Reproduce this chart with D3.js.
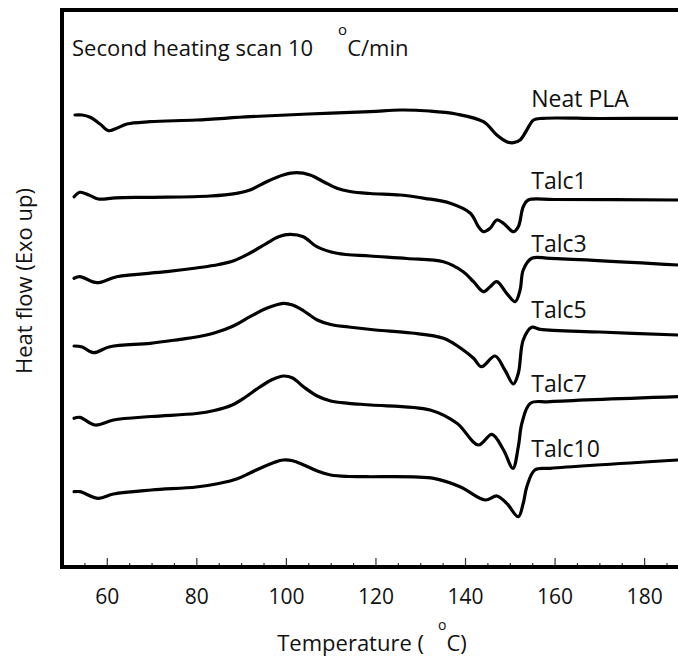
<!DOCTYPE html>
<html>
<head>
<meta charset="utf-8">
<script src="https://cdn.jsdelivr.net/npm/d3@7"></script>
<style>
  html, body { margin: 0; padding: 0; background: #fff; }
  svg { display: block; }
  text { font-family: "Open Sans", "Noto Sans", sans-serif; fill: #111; }
</style>
</head>
<body>
<svg id="chart" width="678" height="661"></svg>
<script>
// ---------- data (temperature in °C, heat flow in arbitrary units, curves stacked) ----------
const seriesNames = ["Neat PLA", "Talc1", "Talc3", "Talc5", "Talc7", "Talc10"];

const neatT = [52.9, 54.5, 56.3, 58.5, 60.4, 62.2, 64.5, 69.7, 80, 92, 105, 118.8, 125.5, 132, 138, 144.1, 147.1, 149.3, 150.8, 152.3, 153.8, 155.3, 157.5, 170, 187.6];
const neatV = [452, 452, 449.7, 443, 436.3, 438.7, 443, 445.3, 447, 450.3, 453, 455.3, 457, 456, 453, 445.3, 432, 425.3, 424.3, 427, 437, 447, 448.7, 448.5, 448.7];

const talc1T = [52.7, 54.0, 56.0, 58.1, 62, 69.7, 83.1, 89.0, 92.0, 95.7, 99.4, 102.4, 105.4, 108.4, 111.4, 114.3, 118.8, 125.5, 131, 136.7, 141.2, 143.0, 144.1, 145.6, 147.1, 148.6, 150.8, 151.9, 153.0, 154.1, 160, 187.6];
const talc1V = [370.3, 374.7, 372, 368, 369.2, 369.7, 371, 373.7, 377, 385.3, 392, 394.3, 392, 385.3, 378.7, 375.5, 373.5, 372, 368.7, 363.7, 353.7, 340.3, 335.3, 338.7, 347, 343.7, 335.3, 340.3, 360.3, 367, 367.5, 367];

const talc3T = [52.7, 54.0, 57.8, 62.2, 73.4, 80, 85, 88.5, 92, 95.7, 98.5, 100.9, 103.9, 106.9, 111.4, 118.8, 127, 135.2, 139.6, 141.9, 144.1, 145.6, 147.1, 149.3, 151.2, 152.3, 153.0, 154.9, 159, 187.6];
const talc3V = [288.7, 290.3, 284.3, 290.3, 295.3, 299, 302.5, 306.5, 314, 323.7, 330.5, 332.7, 330.3, 320.3, 313.7, 311, 308.5, 305.3, 295.3, 285.3, 275.3, 280.3, 285.3, 273.7, 265.3, 277, 297, 308.7, 308.7, 302];

const talc5T = [52.7, 54.5, 57.0, 60.7, 69.7, 76.4, 80, 84, 88, 92, 95.7, 99.4, 101.5, 104, 107, 110, 114, 120, 128, 135.2, 139.6, 141.9, 143.7, 146.7, 148.9, 150.8, 151.9, 153.0, 154.9, 156.8, 170, 187.6];
const talc5V = [221, 220, 214.3, 220.3, 223.7, 227.7, 230, 234, 240.5, 250.3, 258.7, 263.7, 262, 256, 247, 242.5, 240, 237, 234, 228.7, 217, 208.7, 200.3, 211, 197, 183, 193.7, 227, 239.7, 237.7, 235, 232];

const talc7T = [52.7, 54.0, 57.4, 61.5, 70, 80, 84, 88, 91, 94, 97, 99.5, 101.5, 104, 107, 110, 114, 119, 132.2, 138.2, 143.0, 146.0, 148.6, 150.7, 151.9, 152.7, 154.6, 159.0, 187.6];
const talc7V = [148.7, 149.7, 142, 147, 150.5, 153.5, 156.5, 162, 170, 179.5, 187.5, 191, 189, 180, 171, 166, 163.7, 162, 157, 143.7, 122, 132.7, 117, 98.7, 120.3, 143.7, 163.7, 165.3, 170.3];

const talc10T = [52.7, 54.0, 58.1, 61.5, 70, 80, 85, 89, 92, 95, 97.5, 99.4, 101.5, 104, 107, 110, 114, 118, 133.0, 138.9, 144.5, 147.1, 149.3, 151.9, 153.0, 153.8, 155.6, 159.0, 187.6];
const talc10V = [75.3, 75.3, 68.7, 73, 77, 80, 83.5, 88, 94, 100.3, 104.8, 107, 106.3, 102, 96, 92, 90.5, 90.3, 88.7, 80.3, 67, 71, 63.7, 50.3, 63.7, 80.3, 97, 98.7, 107];

// label anchor (temperature, heat-flow level) for each curve name
const labelTemp = 154.8;
const labelLevels = [460.3, 378, 315, 249, 175.3, 110.3];

const majorTicks = [60, 80, 100, 120, 140, 160, 180];
const minorTicks = [55, 65, 70, 75, 85, 90, 95, 105, 110, 115, 125, 130, 135, 145, 150, 155, 165, 170, 175, 185];

const titleText = "Second heating scan 10";
const xTitle = "Temperature (";
const yTitle = "Heat flow (Exo up)";

// ---------- chart ----------
const svg = d3.select("#chart");
const padL = 62, padT = 10, padB = 567;
const x = d3.scaleLinear().domain([50, 190]).range([padL, padL + 140 * 4.478]);
const y = d3.scaleLinear().domain([0, 557]).range([padB, padT]);

const seriesT = [neatT, talc1T, talc3T, talc5T, talc7T, talc10T];
const seriesV = [neatV, talc1V, talc3V, talc5V, talc7V, talc10V];

svg.append("defs").append("clipPath").attr("id", "clip")
  .append("rect").attr("x", padL).attr("y", padT).attr("width", 678 - padL).attr("height", padB - padT);

const line = d3.line()
  .x(d => x(d[0]))
  .y(d => y(d[1]))
  .curve(d3.curveCatmullRom.alpha(0.5));

const g = svg.append("g").attr("clip-path", "url(#clip)");
seriesNames.forEach((name, i) => {
  const pts = seriesT[i].map((t, j) => [t, seriesV[i][j]]);
  g.append("path")
    .datum(pts)
    .attr("d", line)
    .attr("fill", "none")
    .attr("stroke", "#000")
    .attr("stroke-width", 3.2)
    .attr("stroke-linejoin", "round")
    .attr("stroke-linecap", "round");
});

// series labels
seriesNames.forEach((name, i) => {
  svg.append("text")
    .attr("x", x(labelTemp))
    .attr("y", y(labelLevels[i]))
    .attr("font-size", 23)
    .text(name);
});

// minor ticks
svg.append("g")
  .attr("transform", `translate(0,${padB})`)
  .call(d3.axisBottom(x).tickValues(minorTicks).tickSize(-4).tickFormat(""))
  .call(a => a.select(".domain").remove())
  .call(a => a.selectAll("line").attr("stroke", "#333").attr("stroke-width", 1.2));

// major ticks + labels
svg.append("g")
  .attr("transform", `translate(0,${padB})`)
  .call(d3.axisBottom(x).tickValues(majorTicks).tickSize(-9).tickPadding(22).tickFormat(d3.format("d")))
  .call(a => a.select(".domain").remove())
  .call(a => a.selectAll("line").attr("stroke", "#333").attr("stroke-width", 1.2))
  .call(a => a.selectAll("text")
    .attr("font-size", 21)
    .attr("font-family", "'Open Sans', 'Noto Sans', sans-serif")
    .attr("fill", "#111"));

// frame
svg.append("path")
  .attr("d", `M${x(190) + 5},${padT} H${padL} V${padB} H${x(190) + 5}`)
  .attr("fill", "none")
  .attr("stroke", "#000")
  .attr("stroke-width", 4);

// chart title with raised degree sign
const t1 = svg.append("text").attr("x", 72).attr("y", 56).attr("font-size", 22);
t1.append("tspan").text(titleText);
t1.append("tspan").attr("dx", 25).attr("dy", -21).attr("font-size", 15).text("o");
t1.append("tspan").attr("dy", 21).text("C/min");

// x title
const xt = svg.append("text").attr("x", 372).attr("y", 651).attr("font-size", 22).attr("text-anchor", "middle");
xt.append("tspan").text(xTitle);
xt.append("tspan").attr("dx", 14).attr("dy", -21).attr("font-size", 14).text("o");
xt.append("tspan").attr("dy", 21).text("C)");

// y title
svg.append("text")
  .attr("transform", "translate(31.5,281) rotate(-90)")
  .attr("text-anchor", "middle")
  .attr("font-size", 22)
  .text(yTitle);
</script>
</body>
</html>
